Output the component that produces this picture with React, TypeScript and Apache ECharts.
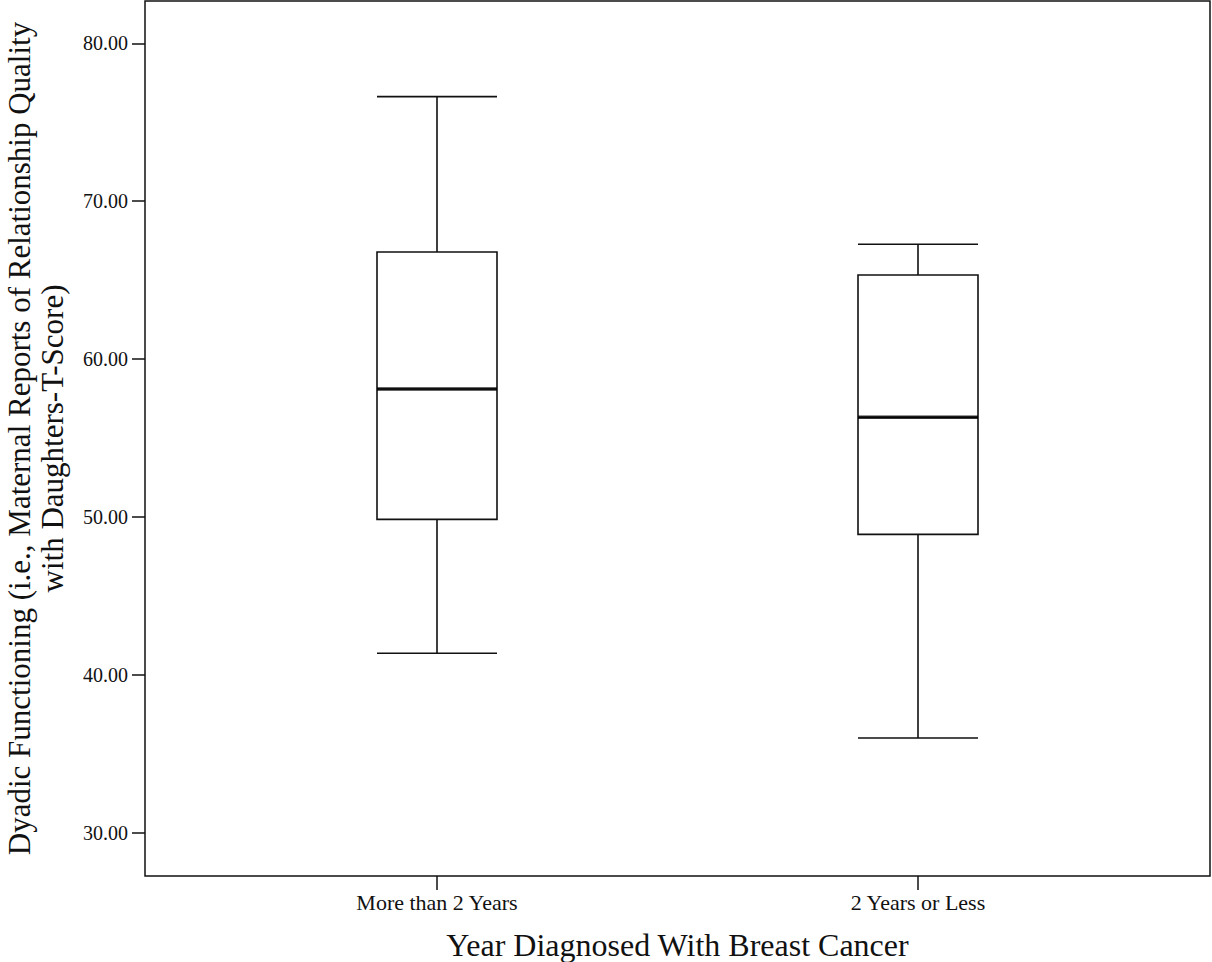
import React, { useEffect, useRef } from "react";
import * as echarts from "echarts";

const categories = ["More than 2 Years", "2 Years or Less"];
// [min whisker, Q1, median, Q3, max whisker]
const group1 = [41.36, 49.84, 58.1, 66.78, 76.62];
const group2 = [35.99, 48.89, 56.31, 65.32, 67.27];
const boxData = [group1, group2];
const yTicks = [30, 40, 50, 60, 70, 80];
const yMin = 27.25;
const yMax = 82.68;

const yTitle =
  "Dyadic Functioning (i.e., Maternal Reports of Relationship Quality\nwith Daughters-T-Score)";
const xTitle = "Year Diagnosed With Breast Cancer";

const FONT = "'Liberation Serif', 'Times New Roman', serif";

export default function App() {
  const ref = useRef<HTMLDivElement>(null);
  useEffect(() => {
    if (!ref.current) return;
    const chart = echarts.init(ref.current, null, { renderer: "svg" });
    chart.setOption({
      animation: false,
      backgroundColor: "#fff",
      grid: [
        {
          left: 145,
          right: 2,
          top: 1,
          bottom: 86,
          show: true,
          borderColor: "#111",
          borderWidth: 1.5,
          backgroundColor: "transparent",
          containLabel: false,
          outerBoundsMode: "none",
        },
        {
          left: 196.5,
          width: 962,
          top: 1,
          bottom: 86,
          containLabel: false,
          outerBoundsMode: "none",
        },
      ],
      xAxis: [
        { gridIndex: 0, type: "value", min: 0, max: 1, show: false },
        {
          gridIndex: 1,
          type: "category",
          data: categories,
          boundaryGap: true,
          axisLine: { show: false },
          axisTick: {
            show: true,
            alignWithLabel: true,
            length: 14,
            lineStyle: { color: "#111", width: 1.5 },
          },
          axisLabel: {
            fontSize: 22,
            fontFamily: FONT,
            color: "#111",
            margin: 15,
          },
          splitLine: { show: false },
          name: xTitle,
          nameLocation: "middle",
          nameGap: 53,
          nameTextStyle: { fontSize: 32, fontFamily: FONT, color: "#111" },
        },
      ],
      yAxis: [
        {
          gridIndex: 0,
          type: "value",
          min: yMin,
          max: yMax,
          axisLine: { show: false },
          axisTick: {
            show: true,
            length: 13,
            customValues: yTicks,
            lineStyle: { color: "#111", width: 1.5 },
          },
          axisLabel: {
            customValues: yTicks,
            formatter: (v: number) => v.toFixed(2),
            fontSize: 20,
            fontFamily: FONT,
            color: "#111",
            margin: 17,
          },
          splitLine: { show: false },
          name: yTitle,
          nameLocation: "middle",
          nameRotate: 90,
          nameGap: 76,
          nameTextStyle: {
            fontSize: 31,
            lineHeight: 33,
            fontFamily: FONT,
            color: "#111",
          },
        },
        { gridIndex: 1, type: "value", min: yMin, max: yMax, show: false },
      ],
      series: [
        {
          type: "boxplot",
          xAxisIndex: 1,
          yAxisIndex: 1,
          data: boxData,
          boxWidth: [120, 120],
          itemStyle: { color: "#fff", borderColor: "#111", borderWidth: 1.6 },
        },
        {
          type: "scatter",
          xAxisIndex: 1,
          yAxisIndex: 1,
          data: boxData.map((d, i) => [i, d[2]]),
          symbol: "rect",
          symbolSize: [120, 3.5],
          itemStyle: { color: "#000" },
          z: 5,
        },
      ],
    });
    return () => chart.dispose();
  }, []);
  return (
    <div
      ref={ref}
      style={{ position: "absolute", left: 0, top: 0, width: 1212, height: 962 }}
    />
  );
}
